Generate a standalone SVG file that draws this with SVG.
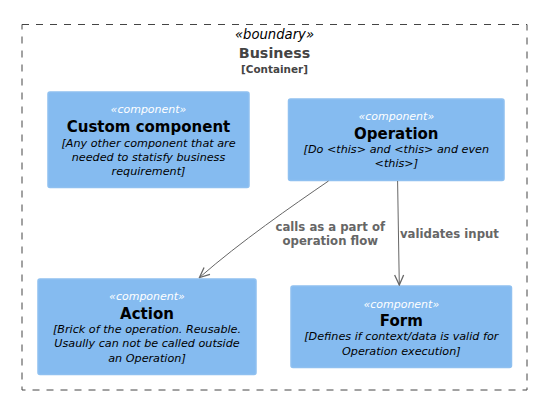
<svg xmlns="http://www.w3.org/2000/svg" width="537" height="400" viewBox="0 0 537 400">
<defs>
<style>
text{font-family:"DejaVu Sans","Liberation Sans",sans-serif;text-anchor:middle}
.box{fill:#85BBF0;stroke:#8FC0F0;stroke-width:1.5}
.st{font-size:11px;font-style:italic;fill:#FFFFFF}
.ti{font-size:15px;font-weight:bold;fill:#000000}
.de{font-size:11.2px;font-style:italic;fill:#000000}
.lbl{font-size:11.7px;font-weight:bold;fill:#666666}
.edge{fill:none;stroke:#666666;stroke-width:1}
</style>
<marker id="arr" viewBox="0 0 12 12" refX="11" refY="6" markerWidth="12" markerHeight="12" markerUnits="userSpaceOnUse" orient="auto">
<path d="M1,1.5 L11,6 L1,10.5" fill="none" stroke="#666666" stroke-width="1.3"/>
</marker>
</defs>
<g id="boundary">
<rect x="22" y="24.5" width="505" height="365.5" fill="none" stroke="#444444" stroke-width="1" stroke-dasharray="7,7"/>
<text x="274.5" y="39" style="font-size:13.2px;font-style:italic;fill:#000000">«boundary»</text>
<text x="274.5" y="57.5" style="font-size:14.3px;font-weight:bold;fill:#444444">Business</text>
<text x="274.5" y="72.5" style="font-size:10.4px;font-weight:bold;fill:#444444">[Container]</text>
</g>
<g id="custom">
<rect class="box" x="48" y="92" width="201" height="95.5" rx="2"/>
<text class="st" x="148.5" y="113">«component»</text>
<text class="ti" x="148.5" y="132">Custom component</text>
<text class="de" x="148.5" y="147">[Any other component that are</text>
<text class="de" x="148.5" y="160.8">needed to statisfy business</text>
<text class="de" x="148.5" y="174.6">requirement]</text>
</g>
<g id="operation">
<rect class="box" x="288.5" y="99" width="215.5" height="81.5" rx="2"/>
<text class="st" x="396.3" y="120">«component»</text>
<text class="ti" x="396.3" y="138.5">Operation</text>
<text class="de" x="396.3" y="153.3">[Do &lt;this&gt; and &lt;this&gt; and even</text>
<text class="de" x="396.3" y="167.3">&lt;this&gt;]</text>
</g>
<g id="action">
<rect class="box" x="38" y="279" width="218" height="95.5" rx="2"/>
<text class="st" x="147" y="300">«component»</text>
<text class="ti" x="147" y="318.5">Action</text>
<text class="de" x="147" y="332.8">[Brick of the operation. Reusable.</text>
<text class="de" x="147" y="347.3">Usaully can not be called outside</text>
<text class="de" x="147" y="361.7">an Operation]</text>
</g>
<g id="form">
<rect class="box" x="291" y="286" width="220.5" height="81.5" rx="2"/>
<text class="st" x="401.3" y="307.7">«component»</text>
<text class="ti" x="401.3" y="326">Form</text>
<text class="de" x="401.3" y="340.3">[Defines if context/data is valid for</text>
<text class="de" x="401.3" y="354.5">Operation execution]</text>
</g>
<g id="connectors">
<path class="edge" d="M328.5,181 C292,206 240,242 199.5,277.5" marker-end="url(#arr)"/>
<text class="lbl" x="330.3" y="230.5">calls as a part of</text>
<text class="lbl" x="330.3" y="245">operation flow</text>
<path class="edge" d="M397.6,181 L399.3,285" marker-end="url(#arr)"/>
<text class="lbl" x="400" y="237.7" style="text-anchor:start">validates input</text>
</g>
</svg>
